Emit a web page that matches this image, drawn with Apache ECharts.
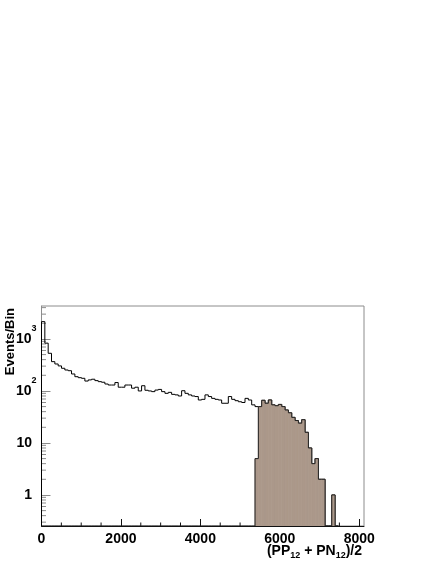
<!DOCTYPE html>
<html>
<head>
<meta charset="utf-8">
<script src="https://cdn.jsdelivr.net/npm/echarts@6/dist/echarts.min.js"></script>
<style>
html,body{margin:0;padding:0;background:#fff;}
#chart{width:436px;height:564px;}
</style>
</head>
<body>
<div id="chart"></div>
<script>
// ---- data ----
const binWidth = 84;
const totalCounts = [
  2150, 830, 530, 366, 330, 303, 273, 253, 245, 212,
  188, 180, 175, 155, 163, 168, 158, 151, 147, 136,
  130, 130, 145, 118, 118, 130, 130, 113, 118, 100,
  126, 103, 100, 97, 104, 107, 97, 90, 94, 86,
  84, 80, 101, 90, 84, 80, 78, 67, 69, 84,
  78, 72, 69, 67, 58, 58, 78, 69, 65, 62,
  60, 72, 67, 54, 50, 50, 66, 58, 67, 54,
  52, 55, 50, 43, 38, 31, 27, 24, 28, 16,
  8, 4, 5, 2, 2, 0, 0, 1, 0
];
const selectedCounts = [
  0, 0, 0, 0, 0, 0, 0, 0, 0, 0,
  0, 0, 0, 0, 0, 0, 0, 0, 0, 0,
  0, 0, 0, 0, 0, 0, 0, 0, 0, 0,
  0, 0, 0, 0, 0, 0, 0, 0, 0, 0,
  0, 0, 0, 0, 0, 0, 0, 0, 0, 0,
  0, 0, 0, 0, 0, 0, 0, 0, 0, 0,
  0, 0, 0, 0, 5, 50, 66, 58, 67, 54,
  52, 55, 50, 43, 38, 31, 27, 24, 28, 16,
  8, 4, 5, 2, 2, 0, 0, 1, 0
];
const xTickLabels = ['0', '2000', '4000', '6000', '8000'];
const yTickLabels = [['1', ''], ['10', ''], ['10', '2'], ['10', '3']]; // base, exponent per decade
const xMinorTickValues = [500, 1000, 1500, 2500, 3000, 3500, 4500, 5000, 5500, 6500, 7000, 7500];
const yMinorTickValues = [0.3, 0.4, 0.5, 0.6, 0.7, 0.8, 0.9,
  2, 3, 4, 5, 6, 7, 8, 9,
  20, 30, 40, 50, 60, 70, 80, 90,
  200, 300, 400, 500, 600, 700, 800, 900,
  2000, 3000, 4000];
const xMin = 0, xMax = 8120, yMin = 0.253, yMax = 4300;

const FONT = '"Liberation Sans", Arial, Helvetica, sans-serif';
const FILL = '#ab988a';

function histData(counts) {
  return counts.map((c, i) => [i * binWidth, c, i > 0 ? counts[i - 1] : 0]);
}

function outlineRender(color) {
  return function (params, api) {
    const x0 = api.value(0);
    const x1 = x0 + binWidth;
    const v = Math.max(api.value(1), yMin);
    const p = Math.max(api.value(2), yMin);
    const a = api.coord([x0, p]);
    const b = api.coord([x0, v]);
    const c = api.coord([x1, v]);
    return {
      type: 'polyline',
      shape: { points: [a, b, c] },
      style: { stroke: color, lineWidth: 1, fill: null }
    };
  };
}

function fillRender(params, api) {
  const v = api.value(1);
  if (!(v > 0)) return null;
  const x0 = api.value(0);
  const top = api.coord([x0, v]);
  const bot = api.coord([x0 + binWidth, yMin]);
  return {
    type: 'rect',
    shape: { x: top[0], y: top[1], width: bot[0] - top[0], height: bot[1] - top[1] },
    style: { fill: FILL, stroke: FILL, lineWidth: 0.8 }
  };
}

const chart = echarts.init(document.getElementById('chart'), null, { renderer: 'canvas' });

chart.setOption({
  animation: false,
  backgroundColor: '#fff',
  grid: {
    left: 41.5, right: 72, top: 306, bottom: 38,
    show: true, borderColor: '#8c8c8c', borderWidth: 1, backgroundColor: 'transparent'
  },
  xAxis: {
    type: 'value', min: xMin, max: xMax, interval: 2000,
    axisLine: { show: true, onZero: false, lineStyle: { color: '#111', width: 1 } },
    axisTick: { show: true, inside: true, length: 7, lineStyle: { color: '#111' } },
    splitLine: { show: false },
    axisLabel: {
      margin: 6, showMaxLabel: false, showMinLabel: true,
      color: '#000', fontFamily: FONT, fontWeight: 'bold', fontSize: 14,
      formatter: function (v) {
        const idx = Math.round(v / 2000);
        return (Math.abs(v - idx * 2000) < 1e-6 && xTickLabels[idx] != null) ? xTickLabels[idx] : '';
      }
    }
  },
  yAxis: {
    type: 'log', logBase: 10, min: yMin, max: yMax,
    axisLine: { show: true, onZero: false, lineStyle: { color: '#8c8c8c', width: 1 } },
    axisTick: { show: true, inside: true, length: 9, lineStyle: { color: '#8c8c8c' } },
    splitLine: { show: false },
    axisLabel: {
      margin: 5, showMinLabel: false, showMaxLabel: false, color: '#000',
      formatter: function (v) {
        const l = Math.log10(v);
        const e = Math.round(l);
        if (Math.abs(l - e) > 1e-6 || yTickLabels[e] == null) return '';
        const t = yTickLabels[e];
        return t[1] ? '{m|' + t[0] + '}{s|' + t[1] + '}' : '{p|' + t[0] + '}';
      },
      rich: {
        p: { fontFamily: FONT, fontWeight: 'bold', fontSize: 14, lineHeight: 30, padding: [0, 4.5, 0, 0], color: '#000' },
        m: { fontFamily: FONT, fontWeight: 'bold', fontSize: 14, lineHeight: 30, color: '#000' },
        s: { fontFamily: FONT, fontWeight: 'bold', fontSize: 9, lineHeight: 9, verticalAlign: 'top', color: '#000' }
      }
    }
  },
  graphic: [
    {
      type: 'text', x: 10.5, y: 308, rotation: Math.PI / 2,
      style: { text: 'Events/Bin', font: 'bold 13px ' + FONT, align: 'right', verticalAlign: 'middle', fill: '#000' }
    },
    {
      type: 'text', x: 362, y: 551,
      style: {
        text: '{m|(PP}{s|12}{m| + PN}{s|12}{m|)/2}',
        align: 'right', verticalAlign: 'middle', fill: '#000',
        rich: {
          m: { fontFamily: FONT, fontWeight: 'bold', fontSize: 14, lineHeight: 19, fill: '#000' },
          s: { fontFamily: FONT, fontWeight: 'bold', fontSize: 9, lineHeight: 9, verticalAlign: 'bottom', fill: '#000' }
        }
      }
    }
  ],
  series: [
    {
      type: 'custom', name: 'yMinorTicks', z: 1, silent: true,
      data: yMinorTickValues.map(v => [xMin, v]),
      renderItem: function (params, api) {
        const p = api.coord([api.value(0), api.value(1)]);
        return { type: 'line', shape: { x1: p[0], y1: p[1], x2: p[0] + 4.5, y2: p[1] }, style: { stroke: '#8c8c8c', lineWidth: 1 } };
      }
    },
    {
      type: 'custom', name: 'xMinorTicks', z: 1, silent: true,
      data: xMinorTickValues.map(v => [v, yMin]),
      renderItem: function (params, api) {
        const p = api.coord([api.value(0), api.value(1)]);
        return { type: 'line', shape: { x1: p[0], y1: p[1], x2: p[0], y2: p[1] - 3.5 }, style: { stroke: '#111', lineWidth: 1 } };
      }
    },
    {
      type: 'custom', name: 'total', z: 2, clip: true, silent: true,
      data: histData(totalCounts),
      renderItem: outlineRender('#000')
    },
    {
      type: 'custom', name: 'selectedFill', z: 3, clip: true, silent: true,
      data: histData(selectedCounts),
      renderItem: fillRender
    },
    {
      type: 'custom', name: 'selectedOutline', z: 4, clip: true, silent: true,
      data: histData(selectedCounts),
      renderItem: outlineRender('#222')
    }
  ]
});
</script>
</body>
</html>
